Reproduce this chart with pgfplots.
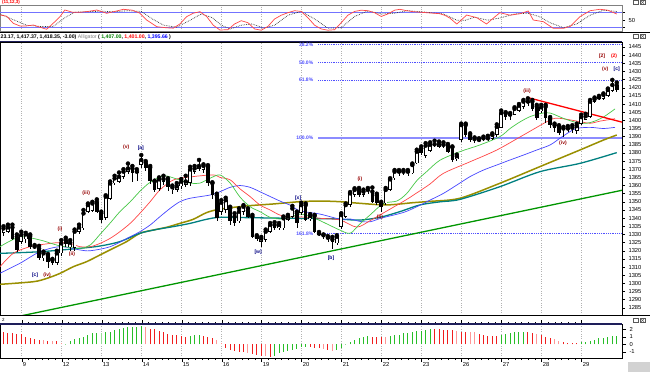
\documentclass[border=0pt]{standalone}
\usepackage{pgfplots}
\pgfplotsset{compat=1.18}
\usepackage{pgfplotstable}
\usepackage{fontspec}
\setmainfont{Liberation Sans}
\definecolor{lipG}{RGB}{70,200,70}
\definecolor{teethR}{RGB}{255,70,70}
\definecolor{jawB}{RGB}{70,70,255}
\definecolor{olv}{RGB}{153,143,0}
\definecolor{tealc}{RGB}{0,128,128}
\definecolor{trendG}{RGB}{0,150,0}
\definecolor{fibB}{RGB}{80,80,255}
\definecolor{fibL}{RGB}{140,140,255}
\definecolor{wR}{RGB}{150,0,0}
\definecolor{wB}{RGB}{0,0,130}
\definecolor{hR}{RGB}{240,30,30}
\definecolor{hP}{RGB}{255,150,150}
\definecolor{hG}{RGB}{40,190,40}
\definecolor{hL}{RGB}{150,220,150}
\definecolor{navy}{RGB}{30,30,90}

\pgfplotstableread{
i O H L C
0 1330.7 1335.0 1329.0 1333.7
1 1331.7 1336.0 1331.0 1334.3
2 1334.3 1336.0 1326.5 1327.4
3 1328.6 1330.0 1319.5 1320.4
4 1325.6 1331.7 1324.0 1329.7
5 1327.0 1331.0 1325.0 1330.0
6 1329.0 1330.0 1321.0 1322.5
7 1322.5 1323.5 1321.0 1322.0
8 1321.5 1323.0 1314.5 1315.3
9 1315.3 1319.5 1314.0 1318.4
10 1317.4 1318.0 1309.2 1313.3
11 1314.3 1315.0 1311.0 1312.3
12 1312.7 1320.0 1311.5 1318.4
13 1318.4 1326.5 1317.0 1324.5
14 1326.6 1328.0 1322.0 1324.0
15 1322.0 1326.5 1320.0 1325.0
16 1321.5 1333.0 1320.0 1331.7
17 1331.7 1336.0 1330.5 1334.3
18 1333.7 1345.0 1333.0 1342.9
19 1344.0 1349.0 1343.0 1348.0
20 1344.5 1350.0 1344.0 1349.0
21 1350.0 1351.5 1343.0 1344.0
22 1343.0 1344.0 1336.8 1339.0
23 1339.9 1354.0 1339.0 1353.2
24 1352.0 1362.5 1351.0 1361.3
25 1361.3 1366.0 1360.5 1364.4
26 1362.4 1368.0 1361.5 1365.4
27 1365.4 1370.0 1364.0 1368.5
28 1368.5 1373.5 1367.0 1370.5
29 1370.5 1372.0 1362.0 1367.5
30 1368.5 1370.0 1363.0 1367.5
31 1372.6 1378.7 1371.0 1375.7
32 1374.0 1375.0 1369.0 1371.0
33 1371.0 1372.0 1361.0 1362.5
34 1362.5 1363.0 1356.0 1357.5
35 1357.7 1365.0 1356.5 1363.8
36 1362.0 1366.0 1360.5 1364.0
37 1363.5 1364.5 1356.5 1359.0
38 1357.0 1360.0 1355.0 1358.9
39 1357.5 1361.5 1356.0 1359.5
40 1359.5 1364.0 1358.0 1362.4
41 1360.5 1366.0 1359.0 1362.5
42 1361.4 1371.5 1360.0 1369.9
43 1368.5 1372.0 1367.0 1370.5
44 1370.0 1375.7 1369.0 1372.0
45 1369.5 1373.0 1368.0 1372.0
46 1371.5 1372.5 1360.0 1361.4
47 1361.4 1362.0 1352.0 1354.2
48 1354.0 1355.0 1338.5 1340.0
49 1344.0 1351.0 1342.0 1349.5
50 1345.0 1352.5 1343.0 1351.0
51 1346.0 1347.0 1336.0 1338.0
52 1341.0 1343.0 1335.0 1337.0
53 1338.0 1346.0 1337.0 1344.0
54 1344.0 1348.0 1342.0 1347.0
55 1344.5 1346.0 1340.0 1341.0
56 1341.0 1342.0 1328.0 1328.6
57 1328.6 1329.5 1326.0 1327.5
58 1325.5 1328.5 1322.5 1327.5
59 1326.6 1333.0 1325.5 1331.7
60 1331.7 1337.0 1331.0 1335.8
61 1335.8 1337.5 1333.0 1333.7
62 1333.7 1337.0 1332.5 1335.8
63 1333.7 1341.0 1333.0 1339.9
64 1338.8 1342.0 1338.0 1340.9
65 1340.9 1347.5 1340.0 1345.9
66 1343.0 1344.0 1333.7 1336.8
67 1343.0 1349.5 1342.0 1348.0
68 1348.0 1349.0 1338.0 1339.0
69 1339.2 1342.5 1338.5 1341.3
70 1341.3 1342.0 1331.0 1331.7
71 1330.5 1331.5 1329.0 1329.5
72 1329.5 1330.0 1327.5 1328.7
73 1328.0 1329.0 1325.5 1327.0
74 1327.0 1328.5 1321.0 1325.5
75 1324.5 1329.5 1323.5 1328.6
76 1334.8 1343.0 1333.5 1341.9
77 1341.0 1349.0 1340.0 1348.0
78 1348.0 1356.0 1347.0 1355.2
79 1354.2 1358.3 1353.0 1357.3
80 1357.3 1358.5 1353.0 1354.2
81 1354.2 1357.5 1353.0 1356.3
82 1356.5 1358.5 1355.0 1357.3
83 1356.3 1358.8 1349.0 1350.0
84 1354.0 1355.0 1348.0 1349.0
85 1349.0 1350.0 1344.0 1347.0
86 1349.0 1358.5 1348.0 1357.3
87 1357.3 1364.5 1356.5 1363.8
88 1364.4 1369.5 1363.5 1368.5
89 1368.0 1369.5 1366.0 1368.5
90 1368.5 1369.5 1366.5 1368.0
91 1367.8 1369.5 1366.0 1368.5
92 1367.5 1373.5 1367.0 1372.6
93 1373.6 1382.0 1373.0 1380.8
94 1382.8 1384.0 1378.5 1379.7
95 1378.0 1386.0 1377.0 1384.5
96 1381.0 1386.5 1380.5 1385.0
97 1385.0 1387.5 1383.5 1385.3
98 1383.5 1387.0 1383.0 1385.5
99 1385.0 1386.5 1383.0 1384.6
100 1384.5 1385.5 1380.0 1380.8
101 1383.5 1384.0 1374.5 1375.7
102 1376.0 1379.0 1375.0 1378.0
103 1387.9 1398.0 1386.5 1397.1
104 1397.1 1398.0 1390.0 1391.0
105 1391.0 1392.0 1387.0 1388.0
106 1388.0 1389.5 1386.0 1388.5
107 1388.0 1389.0 1386.5 1387.4
108 1388.5 1390.0 1387.5 1389.0
109 1388.5 1390.5 1387.5 1389.0
110 1388.5 1392.0 1388.0 1391.0
111 1391.0 1397.5 1390.0 1396.0
112 1395.5 1406.0 1395.0 1404.5
113 1404.3 1405.0 1400.5 1402.3
114 1403.0 1404.5 1400.5 1403.5
115 1403.5 1408.0 1403.0 1407.0
116 1406.0 1410.0 1405.0 1409.0
117 1408.0 1412.5 1407.0 1411.5
118 1411.0 1413.5 1409.0 1411.5
119 1411.5 1412.5 1406.0 1407.0
120 1408.4 1409.5 1400.0 1401.2
121 1405.5 1409.5 1404.5 1408.0
122 1408.4 1409.5 1398.5 1401.2
123 1401.2 1402.0 1395.5 1397.1
124 1397.0 1398.0 1393.0 1395.5
125 1396.0 1397.0 1391.0 1392.0
126 1394.0 1396.0 1390.0 1395.0
127 1394.5 1396.5 1393.0 1395.0
128 1395.0 1397.0 1392.5 1395.5
129 1393.5 1398.0 1391.5 1396.5
130 1398.0 1403.5 1397.0 1402.0
131 1400.5 1404.0 1400.0 1402.5
132 1402.0 1412.5 1401.5 1411.5
133 1411.5 1414.0 1410.5 1413.0
134 1413.5 1415.0 1412.5 1414.0
135 1413.0 1416.5 1412.5 1415.6
136 1415.0 1419.5 1414.5 1418.6
137 1418.0 1424.8 1417.5 1421.7
138 1421.4 1423.2 1417.4 1418.4
}\candles

\pgfplotsset{
  panel/.style={scale only axis, width=622pt, xmin=-0.79, xmax=139.18,
    axis line style={black, line width=0.6pt},
    xtick={4.1,13.1,22.1,31.1,40.1,49.1,58.1,67.1,76.1,85.1,94.1,103.1,112.1,121.1,130.1},
    xmajorgrids, grid style={gray!60, dotted, line width=0.6pt},
    yticklabel pos=right, tick align=outside, major tick length=3pt,
    ytick style={black, line width=0.4pt},
    tick label style={font=\fontsize{5.8}{6}\selectfont},
    /pgf/number format/assume math mode=true,
    /pgf/number format/1000 sep={},
    clip=true, anchor=south west},
  candle/.style={only marks, mark=none, forget plot,
    error bars/.cd, y dir=minus, y explicit, error mark=none},
}

\begin{document}
\begin{tikzpicture}
\useasboundingbox (0pt,0pt) rectangle (650pt,373pt);
\fill[white] (0pt,0pt) rectangle (650pt,373pt);

% ---------------- top oscillator ----------------
\begin{axis}[panel, at={(0pt,342pt)}, height=26pt, ymin=6.8, ymax=110.8,
  xticklabels={}, xtick style={draw=none},
  ytick={20,50,80}, yticklabels={,50,},
  axis line style={gray, line width=0.5pt}]
\addplot[fibB!80, line width=0.9pt, forget plot] coordinates {(-0.79,80) (139.18,80)};
\addplot[fibB!80, line width=0.9pt, forget plot] coordinates {(-0.79,20) (139.18,20)};
\addplot[gray!40!black, densely dotted, line width=0.7pt] coordinates {
(-0.8,75) (2.2,52) (5.2,30) (8.2,25) (11.2,25) (13.8,60) (16,82) (19,84) (22,86) (25,84) (28,88) (31,85) (33.5,55) (36,30) (39,22) (42,50) (44.5,75) (47,60) (49,30) (51,15) (53.5,30) (56,35) (58.5,18) (61,30) (64,70) (67,85) (70,55) (73,18) (76,20) (79,65) (82,87) (85,75) (88,78) (91,88) (95,82) (99,75) (102,50) (104,50) (106,62) (109,50) (112,60) (115,75) (118,78) (120.5,65) (123,40) (126,20) (129,35) (132,70) (135,90) (138,85)};
\addplot[teethR, line width=0.7pt] coordinates {
(-0.8,70.8) (0.7,66) (2.2,37.6) (3.7,26.8) (5.2,27) (6.7,30.8) (8.2,22) (9.7,13.6) (11.2,38) (12.7,64) (13.8,90.8) (15.5,82) (17.2,81.6) (19,85) (21,90.8) (23.2,77.6) (25,85) (27,93.6) (29,90) (30.7,78) (32.2,50.8) (34.5,24) (36.5,20) (38.2,18) (39.7,35) (41.2,64) (42.7,78) (44.2,84) (45.7,65) (47.2,30) (48.7,10.8) (50.5,12) (52,35) (53.5,48) (55,40) (56.5,15) (58,10) (59.5,25) (61,55) (62.5,70) (64,80) (65.5,88) (67,85) (68.5,60) (70,30) (71.5,15) (73,10) (74.5,12) (76,40) (77.5,70) (79,85) (80.5,90) (82,88) (83.5,80) (85,65) (86.5,75) (88,90) (89.2,93.6) (90.7,88) (92.2,84) (95.2,80) (98.2,76) (99.5,68) (100.5,57.6) (102,34.8) (103,50) (104.2,70.8) (106.5,60) (108.7,34.8) (110.2,58) (111.7,80) (114,70) (116.2,76) (118.1,86.8) (119.2,50.8) (121.5,44) (123.7,17.6) (126,17.6) (127.5,25) (129.7,64) (132,88) (134.2,93.6) (136,90) (138,74.8)};
\end{axis}

% ---------------- main price panel ----------------
\begin{axis}[panel, at={(0pt,58pt)}, height=273pt, ymin=1280.58, ymax=1448.06,
  xticklabels={}, xtick style={draw=none},
  ytick={1285,1290,...,1445}]
\addplot[fibB, densely dotted, line width=0.8pt, forget plot] coordinates {(70.8,1446.6) (139.18,1446.6)};
\addplot[fibB, densely dotted, line width=0.8pt, forget plot] coordinates {(70.8,1435.6) (139.18,1435.6)};
\addplot[fibB, densely dotted, line width=0.8pt, forget plot] coordinates {(70.8,1424.7) (139.18,1424.7)};
\addplot[fibB, densely dotted, line width=0.8pt, forget plot] coordinates {(70.8,1330.7) (139.18,1330.7)};
\addplot[fibL, line width=2.2pt, forget plot] coordinates {(70.8,1389) (139.18,1389)};
\addplot[trendG, line width=1.3pt, forget plot] coordinates {(0,1277.8) (139.18,1357.1)};
\addplot[olv, line width=1.5pt, smooth, forget plot] coordinates {
(-0.8,1299.4) (6.7,1301) (9.7,1303) (12.7,1306.1) (15.7,1310.2) (18.7,1313.3) (21.7,1317.4) (24.7,1321.5) (27.7,1325.6) (30.7,1330.7) (33.7,1332.7) (36.7,1334.4) (39.7,1336.8) (42.7,1339.3) (45.7,1343.4) (48.7,1345.5) (54.7,1347.5) (60.7,1348.7) (66.7,1350.1) (71.2,1350.5) (75.7,1350.1) (80.2,1349.1) (86.2,1348.1) (92.2,1349.5) (96,1350.3) (102.7,1352.2) (111.7,1361.4) (120.7,1371.6) (129.7,1381.8) (135,1387.9) (138,1391)};
\addplot[tealc, line width=1.3pt, smooth, forget plot] coordinates {
(-0.8,1318.4) (8.2,1319.4) (17.2,1321.5) (21.7,1322.9) (26.2,1325.6) (30.7,1330.7) (34.5,1333.1) (38.2,1334.8) (42,1336.8) (45.7,1339.3) (48.7,1340.5) (55,1340.3) (62,1340) (68,1339.8) (75,1339.5) (80,1338.8) (84.7,1340.5) (89.2,1344) (93.7,1348.1) (98.2,1350) (102.7,1351.5) (111.7,1359.3) (120.7,1368.5) (129.7,1373.6) (138,1380.2)};
\addplot[jawB, line width=0.7pt, smooth, forget plot] coordinates {
(-0.8,1306.2) (3.7,1312.3) (8.2,1319.4) (12.7,1322.5) (17.2,1320.5) (19.5,1320) (24,1322.5) (28.5,1328.6) (30.7,1331.7) (33,1335.8) (35.2,1340.9) (37.5,1346) (39.7,1350.1) (42,1352.2) (46.5,1354.2) (48.7,1356.2) (51,1358.9) (53.2,1360) (55.5,1358.9) (57.7,1356.2) (62.2,1350.5) (64.5,1348) (66.7,1344.5) (71.2,1342.5) (75.7,1339.4) (78,1339.5) (80.2,1338) (82.5,1337.8) (85,1340) (90,1343.5) (93,1347) (96,1351.1) (99,1355.2) (102,1360.3) (105,1365.5) (108,1369.5) (111,1372.6) (114,1375.7) (117,1378.7) (120,1381.8) (123,1384.9) (125.2,1389) (127.5,1393.1) (129,1395.1) (132,1395.7) (135,1395) (137.6,1395.7)};
\addplot[teethR, line width=0.7pt, smooth, forget plot] coordinates {
(-0.8,1310.2) (2.2,1318.4) (6,1322.5) (10.5,1324.5) (12.7,1325) (15,1324.5) (17.2,1322.5) (19.5,1322.5) (21.7,1324.5) (24,1327.6) (26.2,1331.7) (28.5,1336.8) (30.7,1343) (33,1350.1) (35.2,1357.3) (38.2,1363.4) (42.7,1365.5) (47.2,1366.5) (48.7,1365) (51,1363.5) (53.2,1358) (55.5,1353.2) (57.7,1348.1) (60,1345) (62.2,1341.9) (64.5,1340.9) (69,1340.5) (71.2,1339.9) (75.7,1338.9) (79.5,1334.5) (82.5,1338.5) (86,1344) (90.5,1351.1) (93,1355.5) (96,1361) (99,1367.5) (105,1374.6) (111,1381.8) (117,1391) (123,1400.2) (125.2,1401.2) (129.7,1399.2) (132,1398.2) (134.2,1399.5) (137.6,1401)};
\addplot[lipG, line width=0.7pt, smooth, forget plot] coordinates {
(-0.8,1322.5) (3.7,1328.5) (8.2,1326.6) (12.7,1323) (17.2,1321.5) (19.5,1323.5) (21.7,1330) (24,1337) (26.2,1344) (28.5,1350) (30.7,1356.5) (33,1362) (36,1366) (39,1364) (42,1361.5) (44.2,1361.5) (46.5,1364.5) (48.7,1366.5) (51,1361.5) (53.2,1353) (55.5,1347) (57.7,1344) (60,1340.5) (62.2,1339.5) (64.5,1340.5) (66.7,1342.5) (69,1341) (71.2,1338.5) (73.5,1335.5) (75.7,1332.7) (78,1330.7) (80.2,1336.5) (82.5,1342) (85.5,1349) (88.5,1350.5) (90.7,1355) (93,1363) (95.2,1368.5) (98.2,1375.5) (102.7,1380.8) (107.2,1384.9) (111.7,1390) (114,1395) (116.2,1399) (118.5,1402.3) (121,1404.3) (123,1404.5) (126,1401.2) (129,1398.6) (131.2,1398.2) (133,1399.5) (135,1402) (137.6,1407)};
\addplot[red, line width=1.3pt, forget plot] coordinates {(117.8,1414.1) (139.18,1398.9)};
% candles: wicks
\addplot[candle, error bar style={draw=black, line width=0.6pt}]
  table[x=i, y=H, y error minus expr={\thisrow{H}-\thisrow{L}}] {\candles};
% bodies (all black)
\addplot[candle, error bar style={draw=black, line width=3.6pt, line cap=butt}]
  table[x=i, y expr={max(\thisrow{O},\thisrow{C})}, y error minus expr={abs(\thisrow{C}-\thisrow{O})}] {\candles};
% hollow centre of rising candles
\addplot[draw=white, line width=2.0pt, line cap=butt, mark=none, forget plot, -,
  quiver={u=0, v={max(\thisrow{C}-\thisrow{O}-1.0,0)}}]
  table[x=i, y expr={\thisrow{O}+0.5}] {\candles};
\begin{scope}[font=\fontsize{5}{5}\selectfont\bfseries]
\node[fibB] at (axis cs:68.1,1446.2) {38.2\%};
\node[fibB] at (axis cs:68.1,1435.6) {50.0\%};
\node[fibB] at (axis cs:68.1,1424.7) {61.8\%};
\node[fibB] at (axis cs:67.8,1389) {100.0\%};
\node[fibB] at (axis cs:67.8,1330.7) {161.8\%};
\node[wB] at (axis cs:7.1,1305.1) {[c]};
\node[wR] at (axis cs:9.8,1305.1) {(iv)};
\node[wR] at (axis cs:12.7,1333.3) {(i)};
\node[wR] at (axis cs:15.4,1318.0) {(ii)};
\node[wR] at (axis cs:18.6,1355.4) {(iii)};
\node[wR] at (axis cs:27.6,1383.6) {(v)};
\node[wB] at (axis cs:30.9,1383.0) {[a]};
\node[wB] at (axis cs:57.3,1319.2) {[w]};
\node[wB] at (axis cs:66.3,1352.4) {[x]};
\node[wB] at (axis cs:73.7,1315.5) {[b]};
\node[wR] at (axis cs:80.2,1364) {(i)};
\node[wR] at (axis cs:84.7,1340.7) {(ii)};
\node[wR] at (axis cs:117.8,1418) {(iii)};
\node[wR] at (axis cs:125.9,1386.1) {(iv)};
\node[wR] at (axis cs:134.7,1439.5) {[2]};
\node[red] at (axis cs:137.4,1439.5) {(2)};
\node[wR] at (axis cs:135.4,1431.5) {(v)};
\node[wB] at (axis cs:138,1431.5) {[c]};
\end{scope}
\end{axis}

% ---------------- histogram ----------------
\begin{axis}[panel, at={(0pt,15pt)}, height=34pt, ymin=-1.83, ymax=2.71,
  xticklabels={9,12,13,14,15,16,19,20,21,22,23,26,27,28,29},
  xticklabel style={anchor=north west, inner sep=0pt, xshift=1pt, yshift=0pt},
  major tick length=4pt, minor tick length=2pt, minor x tick num=5,
  xtick style={black, line width=0.4pt},
  ytick={-1,0,1,2}]
\addplot[ycomb, hR, line width=1pt, mark=none] coordinates {
(0,1.68) (1,1.53) (2,1.47) (3,1.4) (4,1.33) (5,1.0) (6,0.9) (7,0.72) (8,0.63) (10,0.48) (12,0.4) (33,2.1) (34,2.0) (35,1.8) (36,1.6) (37,1.4) (38,1.3) (39,1.2) (40,1.1) (41,1.0) (45,1.15) (46,1.0) (47,0.9) (50,-0.53) (51,-0.75) (52,-0.85) (53,-0.97) (54,-0.97) (56,-1.3) (57,-1.4) (58,-1.6) (60,-1.7) (69,-0.4) (70,-0.5) (71,-0.5) (73,-0.76) (83,1.0) (84,1.0) (85,0.98) (97,2.05) (98,2.0) (99,1.97) (100,1.93) (101,1.85) (103,1.7) (104,1.7) (107,1.35) (108,1.2) (109,1.15) (110,1.15) (111,1.15) (118,1.6) (119,1.5) (121,1.2) (122,1.0) (123,0.8) (126,0.3) (127,0.2) (128,0.2) (129,0.2)};
\addplot[ycomb, hP, line width=1pt, mark=none] coordinates {
(9,0.52) (11,0.44) (13,0.15) (32,2.35) (48,0.6) (49,0.15) (55,-1.2) (59,-1.6) (72,-0.6) (74,-0.85) (86,0.95) (102,1.8) (105,1.6) (106,1.6) (120,1.35) (124,0.65) (125,0.45)};
\addplot[ycomb, hG, line width=1pt, mark=none] coordinates {
(15,0.44) (16,0.72) (17,0.9) (18,1.0) (19,1.25) (20,1.45) (21,1.45) (23,1.6) (24,1.7) (25,1.85) (26,2.1) (27,2.2) (28,2.3) (29,2.35) (30,2.35) (31,2.4) (42,1.1) (43,1.2) (44,1.2) (61,-1.5) (62,-1.2) (63,-1.0) (64,-0.9) (65,-0.8) (66,-0.6) (67,-0.4) (68,-0.3) (75,-0.76) (76,-0.55) (78,0.3) (79,0.57) (80,0.8) (81,1.0) (82,1.1) (87,1.1) (88,1.2) (89,1.3) (90,1.45) (91,1.55) (92,1.7) (93,1.75) (94,1.8) (95,1.9) (96,2.05) (112,1.3) (113,1.35) (114,1.5) (115,1.6) (116,1.7) (117,1.7) (130,0.3) (131,0.35) (132,0.45) (133,0.57) (134,0.8) (135,0.9) (136,1.0) (137,1.05) (138,1.1)};
\addplot[ycomb, hL, line width=1pt, mark=none] coordinates {
(14,0.05) (22,1.45) (77,0.05)};
\end{axis}

% ---------------- separators, headers ----------------
\draw[black, line width=1.6pt] (0pt,340.6pt) -- (650pt,340.6pt);
\draw[navy, line width=1.2pt] (0pt,331.4pt) -- (622pt,331.4pt);
\draw[black, line width=1.6pt] (0pt,57.4pt) -- (650pt,57.4pt);
\draw[navy, line width=1.2pt] (0pt,49pt) -- (622pt,49pt);
\node[anchor=west, inner sep=0pt, font=\fontsize{5.2}{6}\selectfont\bfseries] at (0.5pt,335.8pt)
 {23.17, 1,417.37, 1,418.35, -3.00) \textcolor{gray}{\mdseries Alligator} ( \textcolor{green!50!black}{1,407.00}, \textcolor{red}{1,401.00}, \textcolor{blue}{1,395.66} )};
\node[anchor=north west, inner sep=0pt, text=red, font=\fontsize{4.5}{5}\selectfont\bfseries] at (2pt,373pt) {(11,12,3)};
\node[anchor=west, inner sep=0pt, font=\fontsize{4.5}{5}\selectfont] at (2pt,53.3pt) {2};
\foreach \yy in {368.5,334.5,50.5}{
  \draw[gray!70!black, line width=0.4pt, fill=white] (633pt,\yy pt) rectangle +(5pt,4.2pt);
  \draw[gray!70!black, line width=0.4pt, fill=white] (640pt,\yy pt) rectangle +(5pt,4.2pt);
  \draw[gray!70!black, line width=0.4pt] (641pt,\yy pt+0.8pt) -- (644pt,\yy pt+3.4pt) (641pt,\yy pt+3.4pt) -- (644pt,\yy pt+0.8pt);
}
\fill[gray!35] (628pt,1pt) rectangle (650pt,11pt);
\end{tikzpicture}
\end{document}
